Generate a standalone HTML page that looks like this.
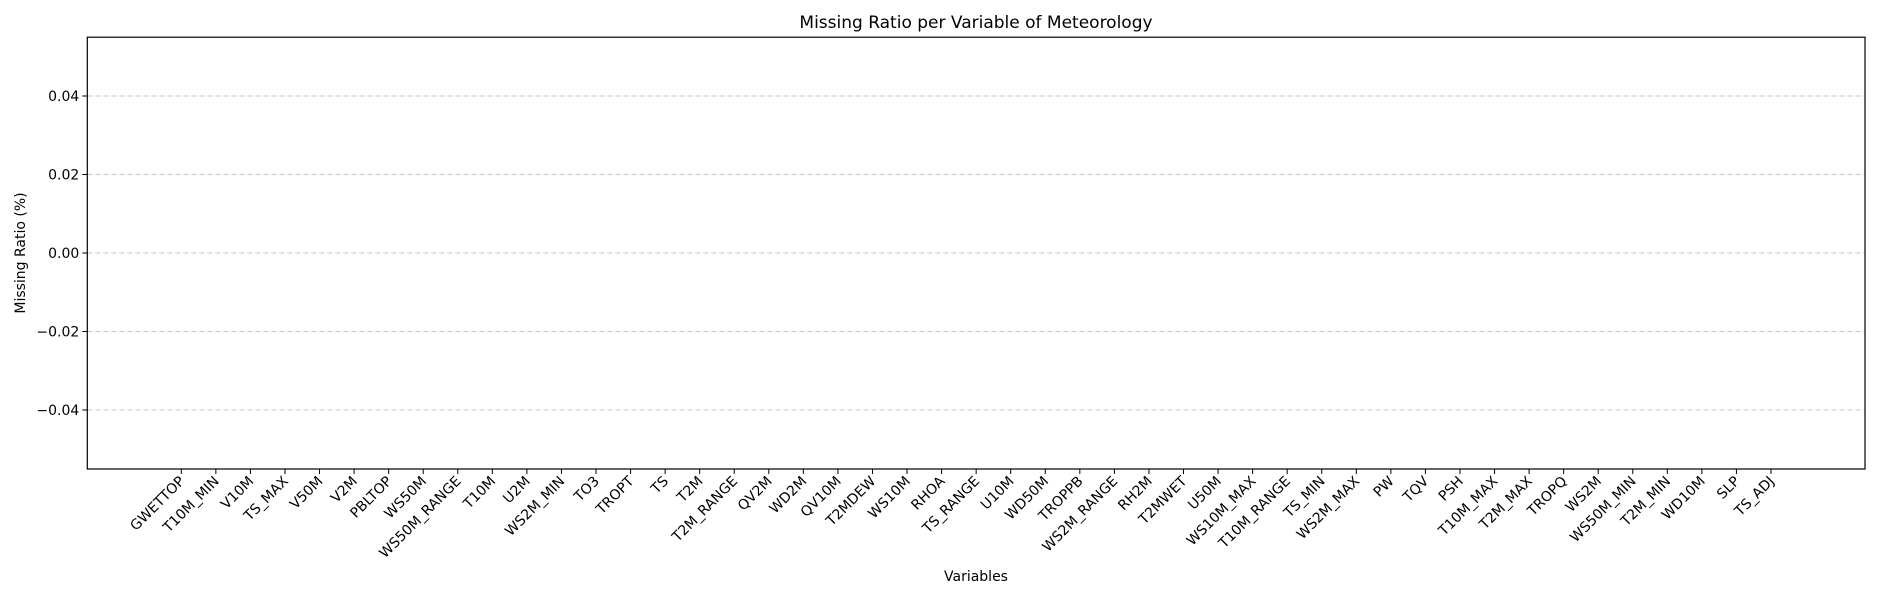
<!DOCTYPE html>
<html><head><meta charset="utf-8"><style>
body{margin:0;background:#fff;}
svg{display:block;font-family:"DejaVu Sans","Liberation Sans",sans-serif;}
</style></head><body>
<svg id="chart" width="1880" height="600" xmlns="http://www.w3.org/2000/svg">
<text x="976" y="28" font-size="17" text-anchor="middle">Missing Ratio per Variable of Meteorology</text>
<text transform="translate(25,253) rotate(-90)" font-size="14" text-anchor="middle">Missing Ratio (%)</text>
<text x="976" y="581" font-size="14" text-anchor="middle">Variables</text>
<g id="grid"></g><g id="bars"></g><g id="yticks"></g><g id="xticks"></g>
<rect x="87.3" y="37.2" width="1777.7" height="431.8" fill="none" stroke="#000" stroke-width="1.2"/>
</svg>
<script>
const categories=["GWETTOP","T10M_MIN","V10M","TS_MAX","V50M","V2M","PBLTOP","WS50M","WS50M_RANGE","T10M","U2M","WS2M_MIN","TO3","TROPT","TS","T2M","T2M_RANGE","QV2M","WD2M","QV10M","T2MDEW","WS10M","RHOA","TS_RANGE","U10M","WD50M","TROPPB","WS2M_RANGE","RH2M","T2MWET","U50M","WS10M_MAX","T10M_RANGE","TS_MIN","WS2M_MAX","PW","TQV","PSH","T10M_MAX","T2M_MAX","TROPQ","WS2M","WS50M_MIN","T2M_MIN","WD10M","SLP","TS_ADJ"];
const values=[0,0,0,0,0,0,0,0,0,0,0,0,0,0,0,0,0,0,0,0,0,0,0,0,0,0,0,0,0,0,0,0,0,0,0,0,0,0,0,0,0,0,0,0,0,0,0];
const yTicks=[0.04,0.02,0.00,-0.02,-0.04];
const yTickLabels=["0.04","0.02","0.00","\u22120.02","\u22120.04"];
const NS="http://www.w3.org/2000/svg";
const L=87.3,R=1865,T=37.2,B=469;
const n=categories.length;
const pad=(R-L)/(n-1+2*2.72)*2.72;
const step=(R-L-2*pad)/(n-1);
const x=i=>L+pad+i*step;
const y=v=>253-(v)*3925;
function mk(tag,attrs,parent){const e=document.createElementNS(NS,tag);for(const k in attrs)e.setAttribute(k,attrs[k]);document.getElementById(parent).appendChild(e);return e;}
yTicks.forEach((v,i)=>{
  const g=mk('line',{x1:L,x2:R,y1:y(v),y2:y(v),stroke:'#c8c8c8','stroke-dasharray':'5,3','stroke-width':1},'grid');
  
  
  const t=mk('line',{x1:L-5,x2:L,y1:y(v),y2:y(v),stroke:'#000'},'yticks');
  
  
  const tx=mk('text',{x:L-8,y:y(v)+5,'font-size':14,'text-anchor':'end'},'yticks');
  tx.textContent=yTickLabels[i];
  
  
});
categories.forEach((c,i)=>{
  const xc=x(i);
  const h=Math.abs(y(values[i])-y(0));
  const b=mk('rect',{x:xc-step*0.4,y:Math.min(y(values[i]),y(0)),width:step*0.8,height:h,fill:'#1f77b4'},'bars');
  
  
  const t=mk('line',{x1:xc,x2:xc,y1:B,y2:B+5,stroke:'#000'},'xticks');
  
  
  const tx=mk('text',{transform:`translate(${xc+4},${B+13}) rotate(-45)`,'font-size':14,'text-anchor':'end'},'xticks');
  tx.textContent=c;
  
  
});
</script>
</body></html>
